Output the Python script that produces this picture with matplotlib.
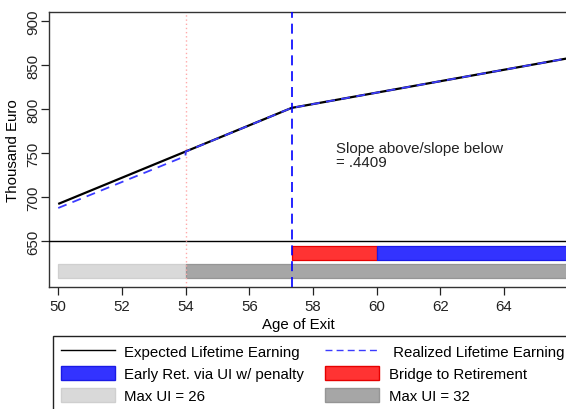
import matplotlib
matplotlib.use("Agg")
import matplotlib.pyplot as plt
from matplotlib.lines import Line2D
from matplotlib.patches import Patch

plt.rcParams['font.family'] = ['Liberation Sans', 'DejaVu Sans']
FS = 10.8

# Lifetime earnings paths (thousand euro) by age of exit
expected_ages = [50, 57.33, 66]
expected_vals = [692.6, 801.7, 858.0]
realized_ages = [50, 54, 54, 57.33, 66]
realized_vals = [688.0, 747.0, 752.0, 801.7, 858.0]

# Key ages
ui_switch_age = 54
exit_age = 57.33

# Regime bands: (label, start age, end age)
upper_band = [("Bridge to Retirement", 57.33, 60), ("Early Ret. via UI w/ penalty", 60, 66)]
lower_band = [("Max UI = 26", 50, 54), ("Max UI = 32", 54, 66)]

slope_ratio = ".4409"

fig = plt.figure(figsize=(5.66, 4.10), dpi=100)
W, H = 566, 410
ax = fig.add_axes([49.3 / W, 1 - 287.7 / H, 1 - 49.3 / W, (287.7 - 12.7) / H])
ax.set_xlim(49.72, 65.95)
ax.set_ylim(598.6, 911)

band_style = {
    "Bridge to Retirement": dict(fc="#ff3333", ec="#e60000"),
    "Early Ret. via UI w/ penalty": dict(fc="#3333ff", ec="#1a1ae6"),
    "Max UI = 26": dict(fc="#d9d9d9", ec="#cfcfcf"),
    "Max UI = 32": dict(fc="#a6a6a6", ec="#959595"),
}
for band, yc in ((upper_band, 636.4), (lower_band, 616.5)):
    for lab, a0, a1 in band:
        ax.barh(yc, a1 - a0, left=a0, height=16, linewidth=0.9, zorder=2, **band_style[lab])

ax.axhline(650, color="black", lw=1.0, zorder=3)
ax.axvline(ui_switch_age, color="#ffaaaa", lw=1.0, ls=(0, (1, 2)), zorder=3)
ax.axvline(exit_age, color="#0000ff", lw=1.2, ls=(0, (6, 3.5)), zorder=5)

ax.plot(expected_ages, expected_vals, color="black", lw=1.6, zorder=4, solid_capstyle="butt")
ax.plot(realized_ages, realized_vals, color="#3b3bff", lw=1.3, ls=(0, (5, 3.5)), zorder=4.5)

ax.text(58.74, 764, "Slope above/slope below\n= " + slope_ratio, fontsize=FS,
        ha="left", va="top", linespacing=1.0, color="#222222")

ax.set_xticks(range(50, 65, 2))
ax.set_yticks(range(650, 901, 50))
ax.tick_params(axis="both", direction="out", length=5.5, width=0.9, labelsize=FS, colors="#222222")
ax.tick_params(axis="y", pad=1.2, labelrotation=90)
ax.tick_params(axis="x", pad=3)
for lab in ax.get_yticklabels():
    lab.set_va("center")

for s in ("left", "bottom", "top"):
    ax.spines[s].set_linewidth(1.0)
    ax.spines[s].set_color("#333333")
ax.spines["right"].set_visible(False)

ax.set_ylabel("Thousand Euro", fontsize=FS, labelpad=4)
ax.set_xlabel("Age of Exit", fontsize=FS, labelpad=3.5, x=0.483)

handles = [
    Line2D([], [], color="black", lw=1.0),
    Patch(fc="#3333ff", ec="#1a1ae6"),
    Patch(fc="#d9d9d9", ec="#cfcfcf"),
    Line2D([], [], color="#3b3bff", lw=1.0, ls=(0, (5, 3))),
    Patch(fc="#ff3333", ec="#e60000"),
    Patch(fc="#a6a6a6", ec="#959595"),
]
labels = ["Expected Lifetime Earning", "Early Ret. via UI w/ penalty", "Max UI = 26",
          " Realized Lifetime Earning", "Bridge to Retirement", "Max UI = 32"]
leg = fig.legend(handles, labels, ncol=2, loc="upper left",
                 bbox_to_anchor=(53 / W, 1 - 337 / H), borderaxespad=0,
                 fontsize=FS, frameon=True, fancybox=False, shadow=False,
                 handlelength=3.6, handleheight=1.05, handletextpad=0.65,
                 columnspacing=1.4, borderpad=0.5, labelspacing=0.47)
leg.get_frame().set_edgecolor("#222222")
leg.get_frame().set_linewidth(1.0)
leg.get_frame().set_alpha(1)

fig.savefig("out.png", dpi=100)
